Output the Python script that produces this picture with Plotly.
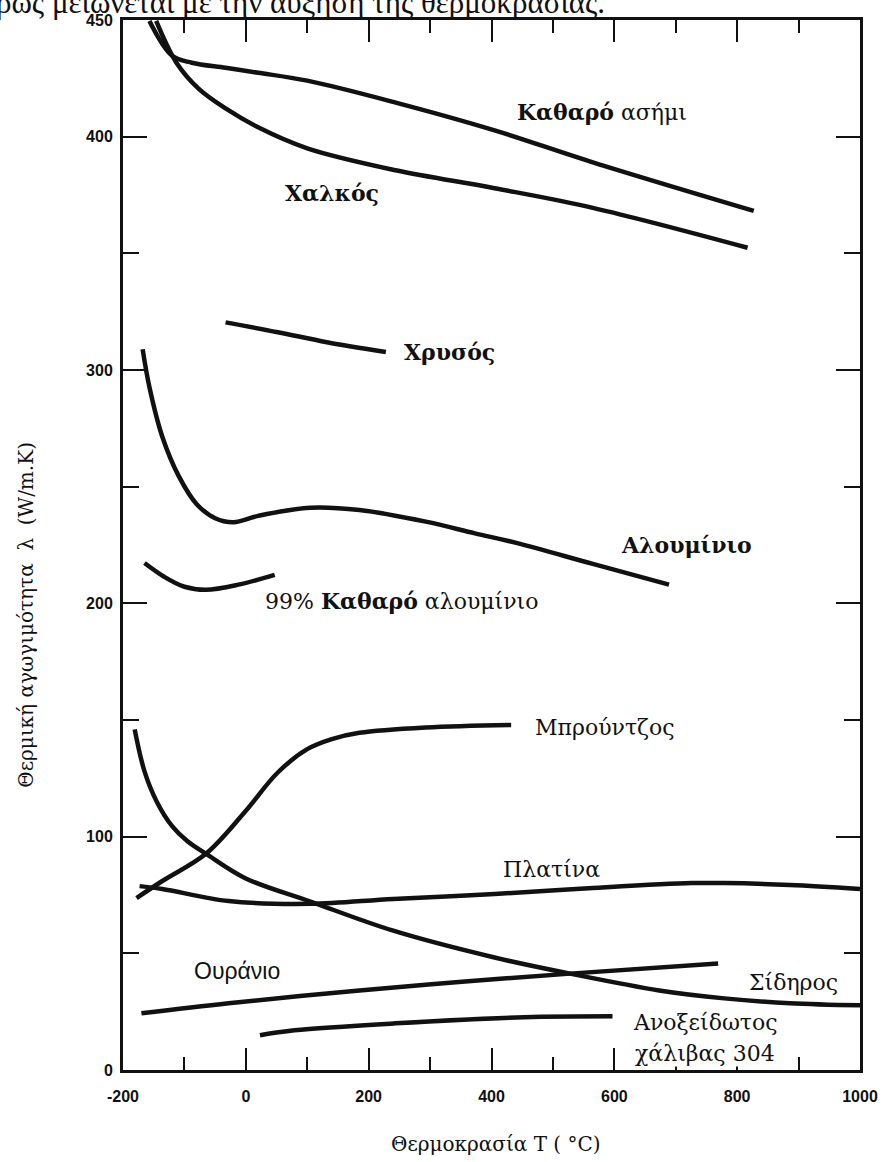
import plotly.graph_objects as go

# ---- data (temperature °C, thermal conductivity W/m.K) ----
silver_T = [-157, -120, -88, -33, 20, 100, 244, 405, 565, 827]
silver_k = [449.6, 434.7, 431.7, 429.5, 427.4, 424, 414.6, 402.7, 389, 368.2]

copper_T = [-146, -113, -77, -33, 20, 100, 244, 405, 565, 817]
copper_k = [449.6, 431.7, 420.6, 412.1, 404, 395, 385.6, 377.9, 369.5, 352.4]

gold_T = [-33, 52, 132, 228]
gold_k = [320.4, 316.2, 311.9, 307.7]

alum_T = [-168, -157, -136, -109, -80, -50, -20, 20, 105, 185, 293, 373, 442, 565, 689]
alum_k = [308.9, 292.7, 271.4, 254.4, 242.5, 236.5, 234.8, 237.5, 241, 240, 235, 230, 225.8, 216.9, 208]

alum99_T = [-165, -133, -100, -65, -12, 47]
alum99_k = [217.3, 211.4, 207.1, 205.8, 208, 212.2]

bronze_T = [-178, -136, -64, -1, 52, 100, 140, 185, 293, 432]
bronze_k = [73.7, 81, 92.9, 110.8, 127.5, 137.5, 141.8, 144.5, 146.8, 147.9]

iron_T = [-181, -165, -145, -120, -95, -64, -1, 105, 240, 405, 528, 673, 779, 886, 1000]
iron_k = [146, 128, 115, 104.5, 98, 92.5, 82.2, 72.2, 59.7, 48.2, 41.3, 34.1, 30.7, 28.6, 27.7]

plat_T = [-173, -136, -28, 105, 240, 405, 565, 726, 779, 886, 1000]
plat_k = [78.8, 77.6, 72.4, 71.2, 73.3, 75.4, 78, 80.1, 80.1, 79.3, 77.6]

uran_T = [-170, -28, 185, 357, 528, 769]
uran_k = [24.3, 28.6, 34.1, 37.9, 41.3, 45.6]

steel_T = [23, 79, 244, 453, 597]
steel_k = [14.9, 17, 20, 22.6, 23]

series = [
    (silver_T, silver_k), (copper_T, copper_k), (gold_T, gold_k),
    (alum_T, alum_k), (alum99_T, alum99_k), (bronze_T, bronze_k),
    (iron_T, iron_k), (plat_T, plat_k), (uran_T, uran_k), (steel_T, steel_k),
]

# labels: (text, T, k, font family)
labels = [
    ("<b>Καθαρό</b> ασήμι", 580, 410.4, "serif"),
    ("<b>Χαλκός</b>", 140, 375.8, "serif"),
    ("<b>Χρυσός</b>", 332, 307.7, "serif"),
    ("<b>Αλουμίνιο</b>", 718, 225, "serif"),
    ("99% <b>Καθαρό</b> αλουμίνιο", 254, 201, "serif"),
    ("Μπρούντζος", 584, 147, "serif"),
    ("Πλατίνα", 498, 86, "serif"),
    ("Ουράνιο", -15, 42.6, "sans"),
    ("Σίδηρος", 891, 37.5, "serif"),
    ("Ανοξείδωτος", 748, 20.5, "serif"),
    ("χάλιβας 304", 747, 7.2, "serif"),
]

x_ticks = [-200, 0, 200, 400, 600, 800, 1000]
y_ticks = [0, 100, 200, 300, 400, 450]

fig = go.Figure()
for T, k in series:
    fig.add_trace(go.Scatter(x=T, y=k, mode="lines",
                             line=dict(color="#111111", width=4.5, shape="spline", smoothing=1.0),
                             hoverinfo="skip", showlegend=False))

SERIF = "DejaVu Serif, Liberation Serif, serif"
TIMES = "Liberation Serif, serif"
SANS = "Liberation Sans, Arial, sans-serif"
for txt, T, k, fam in labels:
    fig.add_annotation(x=T, y=k, text=txt, showarrow=False, xref="x", yref="y",
                       bgcolor="white" if txt.startswith("χάλιβας") else None, borderpad=0,
                       font=dict(family=SERIF if fam == "serif" else SANS,
                                 size=22 if fam == "serif" else 23, color="#111111"))

# axis titles
fig.add_annotation(text="Θερμοκρασία T ( °C)", xref="paper", yref="paper", x=0.506, y=-0.07,
                   xanchor="center", showarrow=False, font=dict(family=SERIF, size=20, color="#111111"),
                   yanchor="middle")
fig.add_annotation(text="Θερμική αγωγιμότητα  λ  (W/m.K)", xref="paper", yref="paper", x=-0.131, y=0.434,
                   xanchor="center", yanchor="middle", showarrow=False, textangle=-90,
                   font=dict(family=SERIF, size=20, color="#111111"))
# cropped body text at the very top
fig.add_annotation(text="ρως μειώνεται με την αύξηση της θερμοκρασίας.", xref="paper", yref="paper",
                   x=-0.175, y=1.0, xanchor="left", yanchor="bottom", yshift=-2, showarrow=False,
                   font=dict(family=TIMES, size=31, color="#111111"))

axis_common = dict(showline=True, linecolor="#111111", linewidth=3, mirror="ticks", ticks="inside",
                   tickcolor="#111111", tickwidth=2, showgrid=False, zeroline=False,
                   tickfont=dict(family=SANS, size=16, color="#111111", weight="bold"))

fig.update_xaxes(range=[-200, 1000], tickvals=x_ticks, ticktext=[str(v) for v in x_ticks], ticklen=22,
                 ticklabelstandoff=10,
                 minor=dict(dtick=100, tick0=-200, ticks="inside", ticklen=13, tickwidth=2, tickcolor="#111111"),
                 **axis_common)
fig.update_yaxes(range=[0, 450], tickvals=y_ticks, ticktext=[str(v) for v in y_ticks], ticklen=24,
                 ticklabelstandoff=4,
                 minor=dict(dtick=50, tick0=0, ticks="inside", ticklen=16, tickwidth=2, tickcolor="#111111"),
                 **axis_common)

fig.update_layout(width=890, height=1162, margin=dict(l=123, r=19, t=14, b=92),
                  paper_bgcolor="white", plot_bgcolor="white")

fig.write_html("out.html")
